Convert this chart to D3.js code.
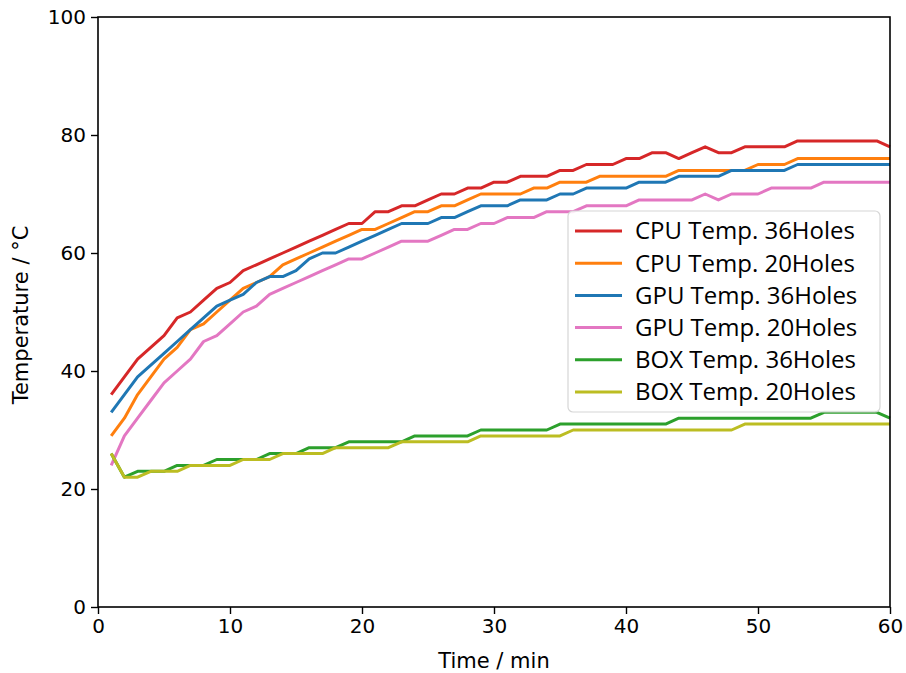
<!DOCTYPE html>
<html>
<head>
<meta charset="utf-8">
<script src="https://cdn.jsdelivr.net/npm/d3@7"></script>
<style>
  body { margin: 0; background: #fff; }
  text { font-family: "DejaVu Sans", sans-serif; }
</style>
</head>
<body>
<div id="root"></div>
<script>
const width = 906;
const height = 673;
const margin = { top: 17, right: 16, bottom: 66, left: 98 };

// minutes 1..60
const minutes = d3.range(1, 61);

const cpu36 = [36, 39, 42, 44, 46, 49, 50, 52, 54, 55, 57, 58, 59, 60, 61, 62, 63, 64, 65, 65,
               67, 67, 68, 68, 69, 70, 70, 71, 71, 72, 72, 73, 73, 73, 74, 74, 75, 75, 75, 76,
               76, 77, 77, 76, 77, 78, 77, 77, 78, 78, 78, 78, 79, 79, 79, 79, 79, 79, 79, 78];
const cpu20 = [29, 32, 36, 39, 42, 44, 47, 48, 50, 52, 54, 55, 56, 58, 59, 60, 61, 62, 63, 64,
               64, 65, 66, 67, 67, 68, 68, 69, 70, 70, 70, 70, 71, 71, 72, 72, 72, 73, 73, 73,
               73, 73, 73, 74, 74, 74, 74, 74, 74, 75, 75, 75, 76, 76, 76, 76, 76, 76, 76, 76];
const gpu36 = [33, 36, 39, 41, 43, 45, 47, 49, 51, 52, 53, 55, 56, 56, 57, 59, 60, 60, 61, 62,
               63, 64, 65, 65, 65, 66, 66, 67, 68, 68, 68, 69, 69, 69, 70, 70, 71, 71, 71, 71,
               72, 72, 72, 73, 73, 73, 73, 74, 74, 74, 74, 74, 75, 75, 75, 75, 75, 75, 75, 75];
const gpu20 = [24, 29, 32, 35, 38, 40, 42, 45, 46, 48, 50, 51, 53, 54, 55, 56, 57, 58, 59, 59,
               60, 61, 62, 62, 62, 63, 64, 64, 65, 65, 66, 66, 66, 67, 67, 67, 68, 68, 68, 68,
               69, 69, 69, 69, 69, 70, 69, 70, 70, 70, 71, 71, 71, 71, 72, 72, 72, 72, 72, 72];
const box36 = [26, 22, 23, 23, 23, 24, 24, 24, 25, 25, 25, 25, 26, 26, 26, 27, 27, 27, 28, 28,
               28, 28, 28, 29, 29, 29, 29, 29, 30, 30, 30, 30, 30, 30, 31, 31, 31, 31, 31, 31,
               31, 31, 31, 32, 32, 32, 32, 32, 32, 32, 32, 32, 32, 32, 33, 33, 33, 33, 33, 32];
const box20 = [26, 22, 22, 23, 23, 23, 24, 24, 24, 24, 25, 25, 25, 26, 26, 26, 26, 27, 27, 27,
               27, 27, 28, 28, 28, 28, 28, 28, 29, 29, 29, 29, 29, 29, 29, 30, 30, 30, 30, 30,
               30, 30, 30, 30, 30, 30, 30, 30, 31, 31, 31, 31, 31, 31, 31, 31, 31, 31, 31, 31];

const seriesNames = ["CPU Temp. 36Holes", "CPU Temp. 20Holes", "GPU Temp. 36Holes",
                     "GPU Temp. 20Holes", "BOX Temp. 36Holes", "BOX Temp. 20Holes"];
const seriesValues = [cpu36, cpu20, gpu36, gpu20, box36, box20];
const colors = ["#d62728", "#ff7f0e", "#1f77b4", "#e377c2", "#2ca02c", "#bcbd22"];

const xTicks = [0, 10, 20, 30, 40, 50, 60];
const yTicks = [0, 20, 40, 60, 80, 100];

const series = seriesNames.map((name, i) => ({
	name: name,
	color: colors[i],
	values: minutes.map((m, j) => ({ t: m, v: seriesValues[i][j] }))
}));

const svg = d3.select("#root")
	.append("svg")
		.attr("width", width)
		.attr("height", height);

const x = d3.scaleLinear().domain([0, 60]).range([margin.left, width - margin.right]);
const y = d3.scaleLinear().domain([0, 100]).range([height - margin.bottom, margin.top]);

// lines
const line = d3.line().x(d => x(d.t)).y(d => y(d.v));
svg.append("g")
	.selectAll("path")
	.data(series).enter()
	.append("path")
		.attr("d", d => line(d.values))
		.style("fill", "none")
		.style("stroke", d => d.color)
		.style("stroke-width", 3)
		.style("stroke-linejoin", "round");

// frame
svg.append("rect")
	.attr("x", x(0)).attr("y", y(100))
	.attr("width", x(60) - x(0)).attr("height", y(0) - y(100))
	.style("fill", "none").style("stroke", "#000").style("stroke-width", 1.6);

// axes
const xAxis = svg.append("g")
	.attr("transform", `translate(0, ${y(0)})`)
	.call(d3.axisBottom(x).tickValues(xTicks).tickSize(7).tickPadding(5));
const yAxis = svg.append("g")
	.attr("transform", `translate(${x(0)}, 0)`)
	.call(d3.axisLeft(y).tickValues(yTicks).tickSize(7).tickPadding(5));

[xAxis, yAxis].forEach(a => {
	a.select(".domain").remove();
	a.selectAll("line").style("stroke", "#000").style("stroke-width", 1.4);
	a.selectAll("text")
		.style("font-family", "DejaVu Sans")
		.style("font-size", "20px")
		.style("fill", "#000");
});

svg.append("text")
	.attr("x", (x(0) + x(60)) / 2)
	.attr("y", 668)
	.attr("text-anchor", "middle")
	.style("font-size", "21px")
	.text("Time / min");

svg.append("text")
	.attr("transform", `translate(28, ${(y(0) + y(100)) / 2 + 3}) rotate(-90)`)
	.attr("text-anchor", "middle")
	.style("font-size", "21px")
	.text("Temperature / °C");

// legend
const legend = svg.append("g").attr("transform", "translate(568, 211)");
legend.append("rect")
	.attr("width", 312).attr("height", 201)
	.attr("rx", 5)
	.style("fill", "#fff").style("fill-opacity", 0.85)
	.style("stroke", "#d6d6d6").style("stroke-width", 1.2);

const rows = legend.selectAll(".row")
	.data(series).enter()
	.append("g")
		.attr("class", "row")
		.attr("transform", (d, i) => `translate(0, ${20 + i * 32.2})`);

rows.append("line")
	.attr("x1", 7).attr("x2", 54)
	.style("stroke", d => d.color)
	.style("stroke-width", 3);

rows.append("text")
	.attr("x", 67)
	.attr("dy", "0.35em")
	.style("font-family", "'Open Sans', sans-serif")
	.style("font-size", "24px")
	.text(d => d.name);
</script>
</body>
</html>
